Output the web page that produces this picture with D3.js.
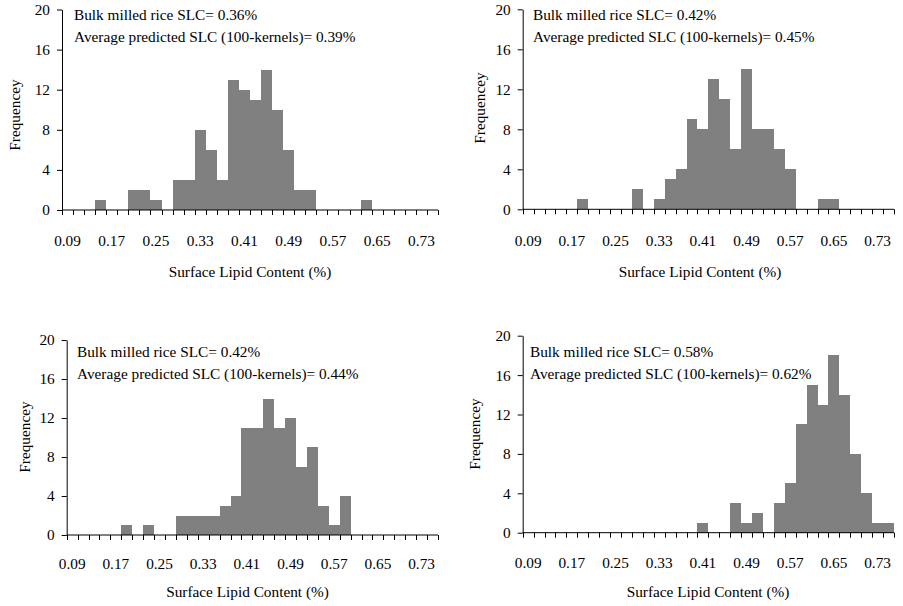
<!DOCTYPE html>
<html><head><meta charset="utf-8">
<script src="https://cdn.jsdelivr.net/npm/d3@7"></script>
<style>body{margin:0;background:#fff}svg{display:block}text{font-family:"Liberation Serif","Times New Roman",serif;fill:#000}</style>
</head><body><svg id="c" width="903" height="606"></svg>
<script>
const categories = ["0.09","0.11","0.13","0.15","0.17","0.19","0.21","0.23","0.25","0.27","0.29","0.31","0.33","0.35","0.37","0.39","0.41","0.43","0.45","0.47","0.49","0.51","0.53","0.55","0.57","0.59","0.61","0.63","0.65","0.67","0.69","0.71","0.73","0.75"];
const tickLabels = ["0.09","0.17","0.25","0.33","0.41","0.49","0.57","0.65","0.73"];
const yTicks = [0,4,8,12,16,20];
const freqA = [0,0,0,1,0,0,2,2,1,0,3,3,8,6,3,13,12,11,14,10,6,2,2,0,0,0,0,1,0,0,0,0,0,0];
const freqB = [0,0,0,0,0,1,0,0,0,0,2,0,1,3,4,9,8,13,11,6,14,8,8,6,4,0,0,1,1,0,0,0,0,0];
const freqC = [0,0,0,0,0,1,0,1,0,0,2,2,2,2,3,4,11,11,14,11,12,7,9,3,1,4,0,0,0,0,0,0,0,0];
const freqD = [0,0,0,0,0,0,0,0,0,0,0,0,0,0,0,0,1,0,0,3,1,2,0,3,5,11,15,13,18,14,8,4,1,1];
const bulkSLC = ["0.36%","0.42%","0.42%","0.58%"];
const avgSLC = ["0.39%","0.45%","0.44%","0.62%"];
const xTitle = "Surface Lipid Content (%)";
const yTitle = "Frequencey";

const panels = [
  {data:freqA, x0:62, x1:438, yTop:9.5, y0:210, tx:74, tb1:19.5, tb2:41.5, lab:36, xtx:250, xty:277, ytx:20, yty:115},
  {data:freqB, x0:522.7, x1:894, yTop:9.3, y0:209.3, tx:533, tb1:19.5, tb2:41.5, lab:36.5, xtx:700, xty:277, ytx:485, yty:108},
  {data:freqC, x0:66.7, x1:438, yTop:340, y0:535, tx:77, tb1:357, tb2:378.5, lab:33.5, xtx:247.5, xty:597, ytx:29.5, yty:437},
  {data:freqD, x0:522.7, x1:894, yTop:335.7, y0:532.7, tx:530, tb1:357, tb2:378.5, lab:35.5, xtx:708, xty:597, ytx:480, yty:434}
];
const svg = d3.select("#c");
const FS = 15.3;
panels.forEach((p,i)=>{
  const g = svg.append("g");
  const x = d3.scaleBand().domain(categories).range([p.x0,p.x1]).paddingInner(0).paddingOuter(0);
  const y = d3.scaleLinear().domain([0,20]).range([p.y0,p.yTop]);
  g.selectAll("rect").data(p.data.map((v,j)=>({c:categories[j],v}))).enter().append("rect")
    .attr("x",d=>x(d.c)).attr("width",x.bandwidth())
    .attr("y",d=>y(d.v)).attr("height",d=>y(0)-y(d.v))
    .attr("fill","#808080").attr("shape-rendering","crispEdges");
  const ya = g.append("g").attr("transform",`translate(${p.x0},0)`)
    .call(d3.axisLeft(y).tickValues(yTicks).tickSize(5).tickSizeOuter(0).tickPadding(7));
  ya.select(".domain").attr("stroke","#000");
  ya.selectAll("text").attr("font-size",FS).attr("fill","#000");
  g.append("line").attr("x1",p.x0).attr("x2",p.x1).attr("y1",p.y0).attr("y2",p.y0).attr("stroke","#000");
  const bounds = categories.map(c=>x(c)).concat([p.x1]);
  g.selectAll("line.xt").data(bounds).enter().append("line").attr("class","xt")
    .attr("x1",d=>Math.round(d)+0.5).attr("x2",d=>Math.round(d)+0.5).attr("y1",p.y0).attr("y2",p.y0+5).attr("stroke","#000");
  g.selectAll("text.xl").data(tickLabels).enter().append("text").attr("class","xl")
    .attr("x",d=>x(d)+x.bandwidth()/2).attr("y",p.y0+p.lab).attr("text-anchor","middle").attr("font-size",FS).text(d=>d);
  g.append("text").attr("x",p.xtx).attr("y",p.xty).attr("text-anchor","middle").attr("font-size",FS).text(xTitle);
  g.append("text").attr("transform",`translate(${p.ytx},${p.yty}) rotate(-90)`).attr("text-anchor","middle").attr("font-size",FS).text(yTitle);
  g.append("text").attr("x",p.tx).attr("y",p.tb1).attr("font-size",FS).text("Bulk milled rice SLC= "+bulkSLC[i]);
  g.append("text").attr("x",p.tx).attr("y",p.tb2).attr("font-size",FS).text("Average predicted SLC (100-kernels)= "+avgSLC[i]);
});
</script></body></html>
